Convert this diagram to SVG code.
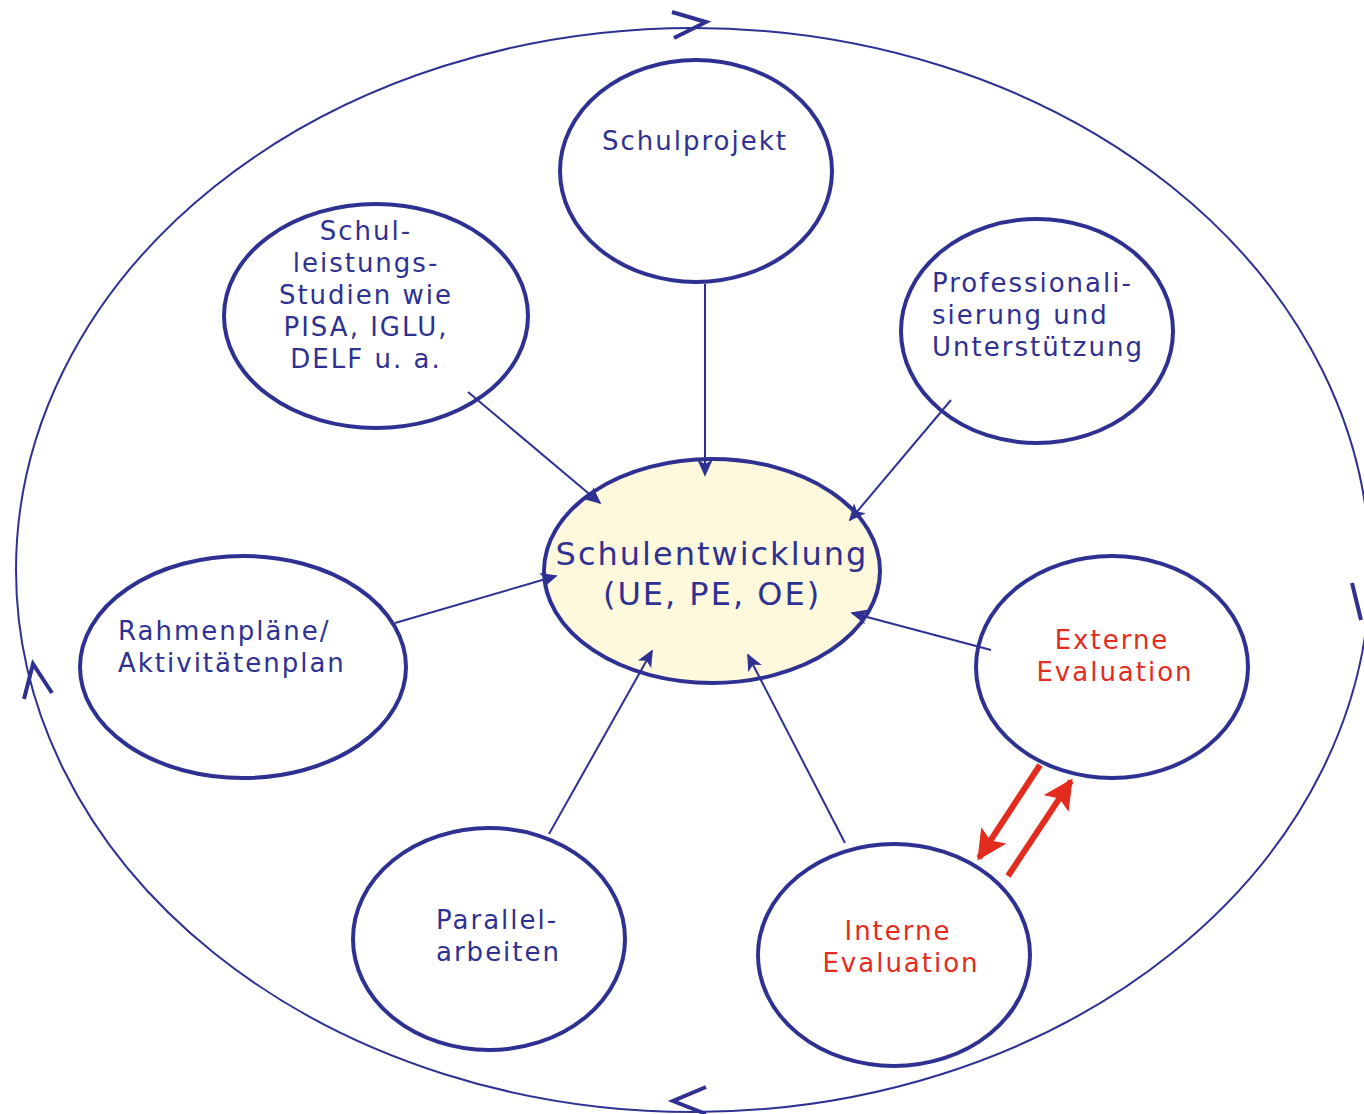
<svg xmlns="http://www.w3.org/2000/svg" width="1364" height="1114" viewBox="0 0 1364 1114">
<defs>
<marker id="ab" viewBox="0 0 10 10" refX="9" refY="5" markerWidth="17" markerHeight="17" markerUnits="userSpaceOnUse" orient="auto"><path d="M0,0.5 L10,5 L0,9.5 L2.5,5 z" fill="#2e3192"/></marker>
<marker id="ar" viewBox="0 0 10 10" refX="9" refY="5" markerWidth="5" markerHeight="5" orient="auto"><path d="M0,0 L10,5 L0,10 L2,5 z" fill="#e32b1e"/></marker>
<style>
.node{fill:#fff;stroke:#2e3192;stroke-width:4}
.t{font-family:"DejaVu Sans",sans-serif;font-size:26px;fill:#2e3192;letter-spacing:2px}
.r{fill:#e32b1e}
.c{text-anchor:middle}
.con{stroke:#2e3192;stroke-width:2;fill:none;marker-end:url(#ab)}
.red{stroke:#e32b1e;stroke-width:6;fill:none;marker-end:url(#ar)}
.chev{stroke:#2e3192;stroke-width:4;fill:none}
</style>
</defs>
<rect width="1364" height="1114" fill="#fff"/>
<g id="cycle">
<ellipse cx="693" cy="570" rx="677" ry="542" fill="none" stroke="#2e3192" stroke-width="2"/>
<path class="chev" d="M672,12 L706,22 L674,38"/>
<path class="chev" d="M24,699 L33,664 L52,693"/>
<path class="chev" d="M1352,583 L1361,620"/>
<path class="chev" d="M706,1087 L673,1101 L706,1114"/>
</g>
<g id="schulprojekt">
<ellipse class="node" cx="696" cy="171" rx="136" ry="111"/>
<text class="t c" x="695" y="150">Schulprojekt</text>
</g>
<g id="schulleistungsstudien">
<ellipse class="node" cx="376" cy="316" rx="152" ry="112"/>
<text class="t c" x="366"><tspan x="366" y="240">Schul-</tspan><tspan x="366" y="272">leistungs-</tspan><tspan x="366" y="304">Studien wie</tspan><tspan x="366" y="336">PISA, IGLU,</tspan><tspan x="366" y="368">DELF u. a.</tspan></text>
</g>
<g id="professionalisierung">
<ellipse class="node" cx="1037" cy="331" rx="136" ry="112"/>
<text class="t"><tspan x="932" y="292">Professionali-</tspan><tspan x="932" y="324">sierung und</tspan><tspan x="932" y="356">Unterstützung</tspan></text>
</g>
<g id="schulentwicklung">
<ellipse class="node" cx="712" cy="571" rx="168" ry="112" style="fill:#fef9dc"/>
<text class="t c" style="font-size:32px;letter-spacing:2px"><tspan x="712" y="565">Schulentwicklung</tspan><tspan x="712" y="605">(UE, PE, OE)</tspan></text>
</g>
<g id="rahmenplaene">
<ellipse class="node" cx="243" cy="667" rx="163" ry="111"/>
<text class="t"><tspan x="118" y="640">Rahmenpläne/</tspan><tspan x="118" y="672">Aktivitätenplan</tspan></text>
</g>
<g id="externe">
<ellipse class="node" cx="1112" cy="667" rx="136" ry="111"/>
<text class="t r c"><tspan x="1112" y="649">Externe</tspan><tspan x="1115" y="681">Evaluation</tspan></text>
</g>
<g id="parallelarbeiten">
<ellipse class="node" cx="489" cy="939" rx="136" ry="111"/>
<text class="t"><tspan x="436" y="929">Parallel-</tspan><tspan x="436" y="961">arbeiten</tspan></text>
</g>
<g id="interne">
<ellipse class="node" cx="894" cy="955" rx="136" ry="111"/>
<text class="t r c"><tspan x="898" y="940">Interne</tspan><tspan x="901" y="972">Evaluation</tspan></text>
</g>
<g id="connectors">
<line class="con" x1="705" y1="284" x2="705" y2="475"/>
<line class="con" x1="468" y1="392" x2="600" y2="503"/>
<line class="con" x1="951" y1="400" x2="850" y2="520"/>
<line class="con" x1="395" y1="623" x2="556" y2="576"/>
<line class="con" x1="991" y1="650" x2="852" y2="613"/>
<line class="con" x1="549" y1="834" x2="652" y2="651"/>
<line class="con" x1="845" y1="843" x2="748" y2="655"/>
<line class="red" x1="1040" y1="765" x2="979" y2="858"/>
<line class="red" x1="1008" y1="876" x2="1071" y2="781"/>
</g>
</svg>
